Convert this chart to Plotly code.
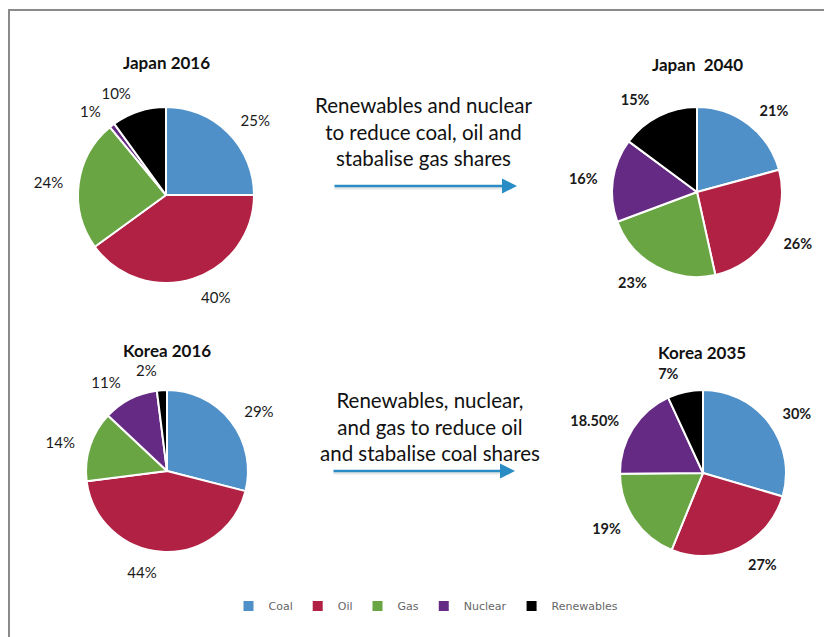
import plotly.graph_objects as go

W, H = 832, 637
OFF = 8  # the page body margin shifts the figure by 8px

sources = ["Coal", "Oil", "Gas", "Nuclear", "Renewables"]
colors = ["#4F90C8", "#B02143", "#6AA544", "#652B84", "#000000"]

japan_2016 = [25, 40, 24, 1, 10]
japan_2040 = [21, 26, 23, 16, 15]
korea_2016 = [29, 44, 14, 11, 2]
korea_2035 = [30, 27, 19, 18.5, 7]

japan_2016_labels = ["25%", "40%", "24%", "1%", "10%"]
japan_2040_labels = ["21%", "26%", "23%", "16%", "15%"]
korea_2016_labels = ["29%", "44%", "14%", "11%", "2%"]
korea_2035_labels = ["30%", "27%", "19%", "18.50%", "7%"]

titles = ["Japan 2016", "Japan  2040", "Korea 2016", "Korea 2035"]
notes = [
    "Renewables and nuclear<br>to reduce coal, oil and<br>stabalise gas shares",
    "Renewables, nuclear,<br>and gas to reduce oil<br>and stabalise coal shares",
]

FONT = "Lato, 'Open Sans', sans-serif"


def fx(x):
    return (x - OFF) / W


def fy(y):
    return 1 - (y - OFF) / H


def circle_domain(cx, cy, r):
    return dict(x=[fx(cx - r), fx(cx + r)], y=[fy(cy + r), fy(cy - r)])


# (values, labels, centre x, centre y, radius, bold labels, show legend, label groups)
ALL = [list(range(5))]
pies = [
    (japan_2016, japan_2016_labels, 166, 195, 88, False, True, ALL),
    (japan_2040, japan_2040_labels, 697, 192, 85, True, False, ALL),
    (korea_2016, korea_2016_labels, 167, 471, 81, False, False, [[0, 1, 2, 3], [4]]),
    (korea_2035, korea_2035_labels, 703, 473, 83, True, False, ALL),
]
LABEL_GAP = 11

fig = go.Figure()
for vals, labs, cx, cy, r, bold, show, groups in pies:
    fig.add_trace(go.Pie(
        labels=sources,
        values=vals,
        textinfo="none",
        sort=False,
        direction="clockwise",
        rotation=0,
        domain=circle_domain(cx, cy, r),
        marker=dict(colors=colors, line=dict(color="white", width=2)),
        showlegend=show,
        hoverinfo="label+percent",
    ))
    # transparent companion rings that carry the outside labels a little further out
    for grp in groups:
        fig.add_trace(go.Pie(
            labels=sources,
            values=vals,
            text=labs,
            textinfo="text",
            textposition=["outside" if i in grp else "none" for i in range(5)],
            sort=False,
            direction="clockwise",
            rotation=0,
            domain=circle_domain(cx, cy, r + LABEL_GAP),
            marker=dict(colors=["rgba(0,0,0,0)"] * 5, line=dict(width=0)),
            textfont=dict(family=FONT, size=15 if not bold else 14.5, color="#1a1a1a",
                          weight="bold" if bold else "normal"),
            showlegend=False,
            hoverinfo="skip",
        ))

annotations = []
title_pos = [(166, 62), (697, 64), (167, 350), (702, 352)]
for t, (x, y) in zip(titles, title_pos):
    annotations.append(dict(
        text="<b>%s</b>" % t, x=fx(x), y=fy(y), xref="paper", yref="paper",
        showarrow=False, font=dict(family=FONT, size=17, color="#111"),
        xanchor="center", yanchor="middle"))

note_pos = [(423, 131), (430, 426)]
for t, (x, y) in zip(notes, note_pos):
    annotations.append(dict(
        text=t, x=fx(x), y=fy(y), xref="paper", yref="paper",
        showarrow=False, font=dict(family=FONT, size=20.5, color="#111"),
        xanchor="center", yanchor="middle", align="center"))

arrows = [(333, 517, 186), (332, 515, 471)]
for x0, x1, y in arrows:
    annotations.append(dict(
        x=fx(x1 - 5), y=fy(y + 2), ax=x0 - x1 + 5, ay=0,
        xref="paper", yref="paper", axref="pixel", ayref="pixel",
        showarrow=True, arrowhead=0, arrowwidth=3, arrowcolor="rgba(160,160,160,0.25)",
        text=""))
    annotations.append(dict(
        x=fx(x1), y=fy(y), ax=x0 - x1, ay=0,
        xref="paper", yref="paper", axref="pixel", ayref="pixel",
        showarrow=True, arrowhead=2, arrowsize=1.2, arrowwidth=2.5,
        arrowcolor="#2A8CC4", text=""))

shapes = [
    dict(type="line", xref="paper", yref="paper", x0=0, x1=1, y0=fy(10), y1=fy(10),
         line=dict(color="#8a8a8a", width=2)),
    dict(type="line", xref="paper", yref="paper", x0=fx(9), x1=fx(9), y0=0, y1=fy(10),
         line=dict(color="#8a8a8a", width=2)),
]

fig.update_layout(
    width=W, height=H,
    margin=dict(l=0, r=0, t=0, b=0),
    paper_bgcolor="white",
    plot_bgcolor="white",
    annotations=annotations,
    shapes=shapes,
    legend=dict(orientation="h", x=fx(426), y=fy(606), xanchor="center", yanchor="middle",
                font=dict(family="'DejaVu Sans', Verdana, sans-serif", size=11, color="#666"),
                itemwidth=30, traceorder="normal"),
)

fig.write_html("out.html")
